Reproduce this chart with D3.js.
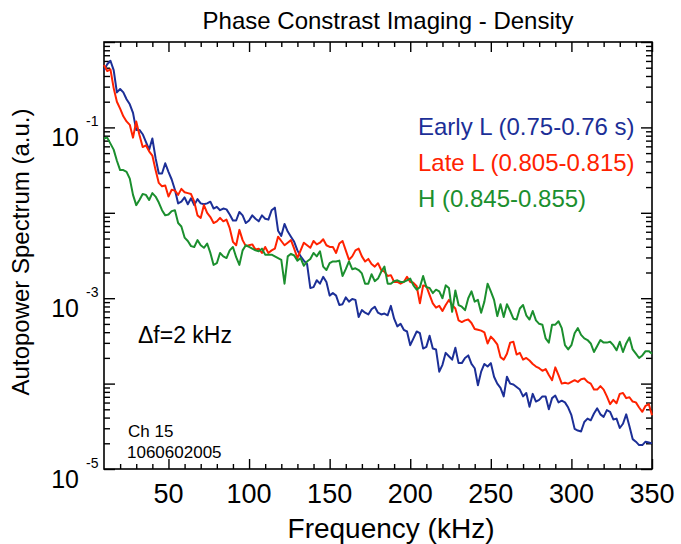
<!DOCTYPE html>
<html>
<head>
<meta charset="utf-8">
<script src="https://cdn.jsdelivr.net/npm/d3@7/dist/d3.min.js"></script>
<style>
  body { margin: 0; background: #fff; }
  svg { display: block; font-family: "Liberation Sans", Arial, Helvetica, sans-serif; }
</style>
</head>
<body>
<svg id="chart" width="681" height="544"></svg>
<script>
// Spectra: log10 of the autopower (a.u.),
// one point every 2 kHz (df = 2 kHz) from 10 to 350 kHz.
var freqStart = 10, freqStep = 2;

var earlyL = [
  -0.33,-0.26,-0.22,-0.33,-0.59,-0.55,-0.59,-0.67,-0.73,-0.83,
  -1.03,-1.03,-1.08,-1.17,-1.26,-1.13,-1.36,-1.54,-1.54,-1.42,
  -1.52,-1.61,-1.73,-1.89,-1.87,-1.82,-1.90,-1.83,-1.91,-1.84,
  -1.89,-1.90,-1.89,-1.87,-1.95,-1.93,-1.97,-1.95,-1.96,-2.02,
  -2.09,-2.09,-1.99,-2.03,-2.12,-2.09,-2.03,-2.07,-2.10,-2.03,
  -2.07,-2.08,-1.97,-1.94,-2.21,-2.27,-2.13,-2.22,-2.28,-2.34,
  -2.44,-2.51,-2.56,-2.60,-2.88,-2.87,-2.79,-2.83,-2.75,-2.81,
  -2.97,-2.94,-2.97,-3.08,-3.07,-2.99,-3.04,-3.01,-3.02,-3.22,
  -3.14,-3.17,-3.19,-3.13,-3.10,-3.17,-3.19,-3.18,-3.20,-3.09,
  -3.24,-3.33,-3.30,-3.37,-3.39,-3.55,-3.47,-3.39,-3.41,-3.59,
  -3.57,-3.44,-3.59,-3.60,-3.86,-3.78,-3.64,-3.68,-3.72,-3.58,
  -3.76,-3.76,-3.70,-3.67,-3.77,-3.82,-4.02,-3.86,-3.77,-3.80,
  -3.76,-3.92,-4.00,-4.05,-4.15,-3.92,-4.00,-4.01,-4.04,-4.07,
  -4.15,-4.11,-4.27,-4.12,-4.21,-4.19,-4.15,-4.15,-4.30,-4.17,
  -4.14,-4.22,-4.20,-4.22,-4.28,-4.37,-4.53,-4.55,-4.56,-4.45,
  -4.41,-4.43,-4.35,-4.29,-4.36,-4.39,-4.31,-4.33,-4.42,-4.41,
  -4.52,-4.47,-4.36,-4.50,-4.65,-4.68,-4.72,-4.72,-4.68,-4.69,
  -4.70
];

var lateL = [
  -0.27,-0.34,-0.32,-0.54,-0.70,-0.78,-0.87,-0.93,-0.97,-1.12,
  -0.93,-1.09,-1.23,-1.21,-1.28,-1.33,-1.50,-1.65,-1.69,-1.68,
  -1.81,-1.73,-1.74,-1.79,-1.72,-1.76,-1.77,-1.78,-1.87,-2.03,
  -2.06,-1.91,-2.00,-2.05,-2.12,-2.10,-2.06,-2.10,-2.08,-2.18,
  -2.34,-2.38,-2.20,-2.32,-2.39,-2.38,-2.37,-2.43,-2.42,-2.47,
  -2.40,-2.47,-2.44,-2.42,-2.28,-2.33,-2.38,-2.35,-2.32,-2.42,
  -2.53,-2.44,-2.35,-2.38,-2.41,-2.33,-2.37,-2.35,-2.31,-2.38,
  -2.40,-2.40,-2.47,-2.36,-2.33,-2.44,-2.55,-2.51,-2.44,-2.42,
  -2.51,-2.57,-2.54,-2.60,-2.63,-2.59,-2.67,-2.69,-2.74,-2.73,
  -2.81,-2.81,-2.83,-2.81,-2.75,-2.81,-2.82,-2.86,-3.06,-2.85,
  -2.86,-2.96,-3.06,-3.11,-3.09,-3.15,-3.08,-3.02,-3.08,-3.12,
  -3.26,-3.28,-3.26,-3.25,-3.29,-3.36,-3.37,-3.38,-3.40,-3.53,
  -3.45,-3.49,-3.54,-3.69,-3.72,-3.65,-3.52,-3.51,-3.66,-3.64,
  -3.72,-3.70,-3.73,-3.77,-3.80,-3.82,-3.85,-3.83,-3.90,-3.96,
  -3.81,-3.90,-4.00,-3.99,-4.00,-3.98,-3.96,-3.98,-3.95,-3.94,
  -3.98,-4.00,-4.07,-4.07,-4.03,-4.07,-4.15,-4.24,-4.19,-4.23,
  -4.12,-4.11,-4.17,-4.16,-4.21,-4.22,-4.28,-4.33,-4.26,-4.24,
  -4.37
];

var hMode = [
  -1.13,-1.12,-1.19,-1.26,-1.39,-1.50,-1.50,-1.52,-1.60,-1.79,
  -1.91,-1.85,-1.78,-1.79,-1.85,-1.77,-1.81,-1.88,-1.97,-2.03,
  -2.02,-1.98,-1.97,-2.12,-2.16,-2.29,-2.33,-2.39,-2.40,-2.32,
  -2.38,-2.41,-2.36,-2.47,-2.61,-2.59,-2.47,-2.51,-2.53,-2.44,
  -2.40,-2.52,-2.61,-2.44,-2.38,-2.40,-2.42,-2.44,-2.45,-2.42,
  -2.49,-2.49,-2.49,-2.51,-2.53,-2.55,-2.83,-2.51,-2.48,-2.50,
  -2.56,-2.53,-2.62,-2.57,-2.54,-2.47,-2.51,-2.45,-2.63,-2.67,
  -2.59,-2.57,-2.57,-2.56,-2.74,-2.66,-2.57,-2.66,-2.65,-2.67,
  -2.71,-2.83,-2.83,-2.72,-2.80,-2.77,-2.69,-2.63,-2.83,-2.83,
  -2.80,-2.79,-2.81,-2.81,-2.79,-2.77,-2.85,-2.90,-2.87,-2.74,
  -2.87,-2.88,-2.94,-2.90,-2.92,-3.00,-2.85,-2.88,-3.16,-2.91,
  -3.08,-3.10,-3.14,-3.00,-2.92,-3.04,-3.02,-3.17,-3.04,-2.83,
  -2.92,-3.02,-3.21,-3.07,-3.22,-3.07,-3.15,-3.24,-3.25,-3.12,
  -3.08,-3.20,-3.25,-3.15,-3.26,-3.30,-3.31,-3.47,-3.52,-3.31,
  -3.31,-3.27,-3.35,-3.55,-3.60,-3.55,-3.41,-3.35,-3.43,-3.47,
  -3.49,-3.53,-3.63,-3.56,-3.49,-3.52,-3.52,-3.51,-3.55,-3.61,
  -3.51,-3.63,-3.53,-3.46,-3.60,-3.65,-3.70,-3.67,-3.62,-3.62,
  -3.65
];

var seriesNames = ["Early L (0.75-0.76 s)", "Late L (0.805-0.815)", "H (0.845-0.855)"];
var seriesColors = ["#1c2f97", "#ff2200", "#1b8f2e"];
var xTickValues = [50, 100, 150, 200, 250, 300, 350];
var yLabelExps = [-5, -3, -1];

var W = 681, H = 544;
var margin = {top: 42, right: 29, bottom: 75, left: 104};

var svg = d3.select("#chart");
svg.append("rect").attr("width", W).attr("height", H).attr("fill", "#fff");

var x = d3.scaleLinear().domain([10, 350]).range([margin.left, W - margin.right]);
var y = d3.scaleLog().domain([1e-5, 1]).range([H - margin.bottom, margin.top]);

// tick positions
var xMinor = d3.range(20, 350, 10).filter(function(v){ return v % 50 !== 0; });
var yMajor = [1e-5, 1e-4, 1e-3, 1e-2, 1e-1, 1];
var yMinor = [];
for (var d = -5; d < 0; d++) {
  for (var m = 2; m <= 9; m++) yMinor.push(m * Math.pow(10, d));
}

function ticks(axis, tr, values, size) {
  var g = svg.append("g").attr("transform", tr)
    .call(axis.tickValues(values).tickSize(size).tickSizeOuter(0).tickFormat(""));
  g.select(".domain").remove();
  g.selectAll("line").attr("stroke", "#000").attr("stroke-width", 1.4);
}

ticks(d3.axisBottom(x), "translate(0," + (H - margin.bottom) + ")", xTickValues, -10);
ticks(d3.axisBottom(x), "translate(0," + (H - margin.bottom) + ")", xMinor, -5);
ticks(d3.axisTop(x), "translate(0," + margin.top + ")", xTickValues, -10);
ticks(d3.axisTop(x), "translate(0," + margin.top + ")", xMinor, -5);
ticks(d3.axisLeft(y), "translate(" + margin.left + ",0)", yMajor, -11);
ticks(d3.axisLeft(y), "translate(" + margin.left + ",0)", yMinor, -6);
ticks(d3.axisRight(y), "translate(" + (W - margin.right) + ",0)", yMajor, -11);
ticks(d3.axisRight(y), "translate(" + (W - margin.right) + ",0)", yMinor, -6);

// frame
svg.append("rect")
  .attr("x", margin.left).attr("y", margin.top)
  .attr("width", W - margin.left - margin.right)
  .attr("height", H - margin.top - margin.bottom)
  .attr("fill", "none").attr("stroke", "#000").attr("stroke-width", 1.6);

// spectra
var plot = svg.append("g");
var line = d3.line()
  .x(function(v, i){ return x(freqStart + i * freqStep); })
  .y(function(v){ return y(Math.pow(10, v)); });

[earlyL, lateL, hMode].forEach(function(s, i) {
  plot.append("path")
    .datum(s)
    .attr("d", line)
    .attr("fill", "none")
    .attr("stroke", seriesColors[i])
    .attr("stroke-width", 2)
    .attr("stroke-linejoin", "round");
});

// x labels
svg.append("g").selectAll("text")
  .data(xTickValues).enter().append("text")
  .attr("x", function(v){ return x(v); })
  .attr("y", 503)
  .attr("text-anchor", "middle")
  .attr("font-size", 27)
  .text(function(v){ return v; });

// y labels 10^n
var yl = svg.append("g").selectAll("g")
  .data(yLabelExps).enter().append("g");
yl.append("text")
  .attr("x", 79).attr("y", function(e){ return y(Math.pow(10, e)) + 19; })
  .attr("text-anchor", "end").attr("font-size", 25)
  .text("10");
yl.append("text")
  .attr("x", 86).attr("y", function(e){ return y(Math.pow(10, e)) - 1; })
  .attr("font-size", 14)
  .text(function(e){ return String(e); });

// titles
svg.append("text")
  .attr("x", 388).attr("y", 29)
  .attr("text-anchor", "middle").attr("font-size", 24)
  .text("Phase Constrast Imaging - Density");

svg.append("text")
  .attr("x", 391).attr("y", 538)
  .attr("text-anchor", "middle").attr("font-size", 28)
  .text("Frequency (kHz)");

svg.append("text")
  .attr("transform", "translate(29," + 252 + ") rotate(-90)")
  .attr("text-anchor", "middle").attr("font-size", 24)
  .text("Autopower Spectrum (a.u.)");

// legend
svg.append("g").selectAll("text")
  .data(seriesNames).enter().append("text")
  .attr("x", 418)
  .attr("y", function(d, i){ return 135 + i * 36; })
  .attr("font-size", 24)
  .attr("fill", function(d, i){ return seriesColors[i]; })
  .text(function(d){ return d; });

// annotations
svg.append("text").attr("x", 138).attr("y", 343).attr("font-size", 23).text("\u0394f=2 kHz");
svg.append("text").attr("x", 128).attr("y", 437).attr("font-size", 17).text("Ch 15");
svg.append("text").attr("x", 127).attr("y", 458).attr("font-size", 17).text("1060602005");
</script>
</body>
</html>
